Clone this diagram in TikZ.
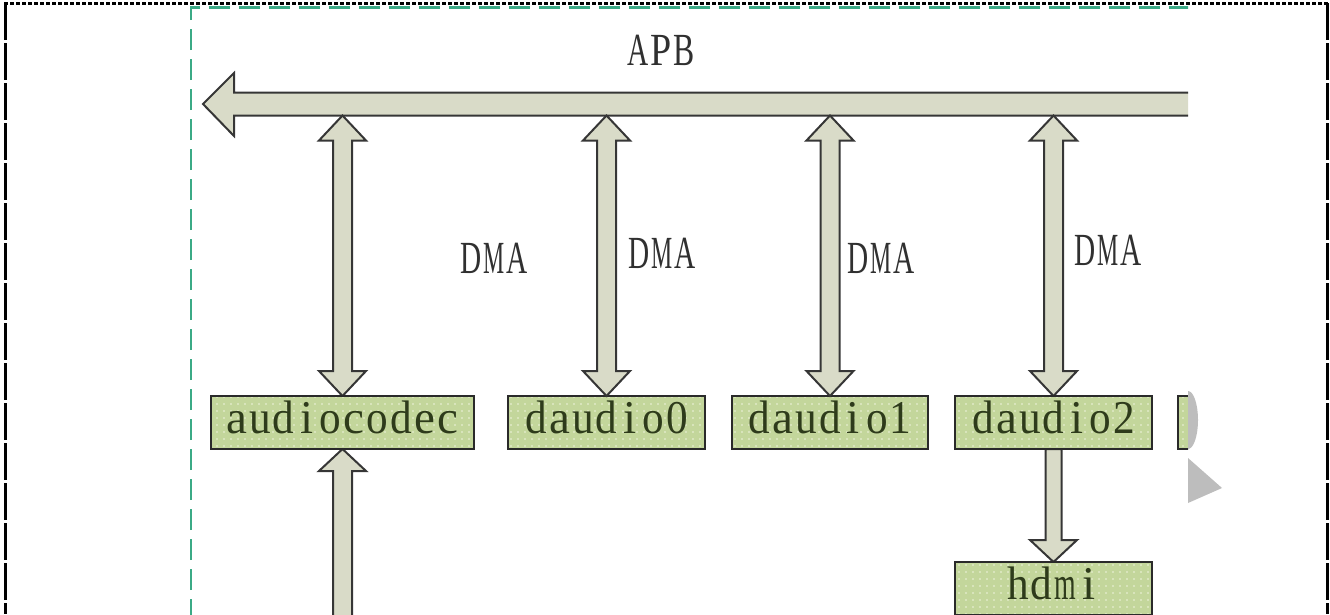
\documentclass[tikz,border=0pt]{standalone}
\usepackage{fontspec}
\setmainfont{Liberation Serif}
\usepackage{graphicx}
\usetikzlibrary{calc,patterns.meta}

\definecolor{framegreen}{HTML}{3BAA86}
\definecolor{arrowfill}{HTML}{D9DBC8}
\definecolor{arrowline}{HTML}{363636}
\definecolor{boxfill}{HTML}{C3D69B}
\definecolor{boxdots}{HTML}{EEF3DC}
\definecolor{boxline}{HTML}{2A2A2A}
\definecolor{boxtext}{HTML}{2E3B1B}
\definecolor{labeltext}{HTML}{303030}
\definecolor{overlaygray}{HTML}{BDBDBD}

% half-width (monospaced) setting of Latin text: every glyph sits in a 0.5em cell
\newlength\glw
\newlength\glx
\newcommand\halfch[1]{%
  \settowidth\glw{#1}\setlength\glx{0.46em}%
  \ifdim\glw>\glx
    \pgfmathsetmacro\glsx{\the\glx/\the\glw}%
    \makebox[0.5em]{\scalebox{\glsx}[1]{#1}}%
  \else
    \makebox[0.5em]{#1}%
  \fi}
\makeatletter
\def\mono@loop#1{\ifx#1\relax\else\halfch{#1}\expandafter\mono@loop\fi}
\newcommand\mono[1]{\mono@loop#1\relax}
\makeatother

% vertical double block arrow between a top tip and a bottom tip
\newcommand\dblarrow[2]{%
  \filldraw[blockarrow] (#1) -- ($(#1)+(23.5,25)$) -- ($(#1)+(9.5,25)$)
    -- ($(#2)+(9.5,-25)$) -- ($(#2)+(23.5,-25)$) -- (#2)
    -- ($(#2)+(-23.5,-25)$) -- ($(#2)+(-9.5,-25)$)
    -- ($(#1)+(-9.5,25)$) -- ($(#1)+(-23.5,25)$) -- cycle;}

\begin{document}
\begin{tikzpicture}[x=1pt,y=-1pt,
  blockarrow/.style={fill=arrowfill, draw=arrowline, line width=2pt, line join=miter},
  unit/.style={draw=boxline, line width=2pt, preaction={fill=boxfill},
    pattern={Dots[radius=0.9pt, distance=7pt]}, pattern color=boxdots,
    minimum height=53pt, inner sep=0pt, outer sep=0pt,
    text height=31pt, text depth=0pt, text=boxtext,
    font=\fontsize{47}{50}\selectfont},
  buslabel/.style={anchor=base, text=labeltext, inner sep=0pt,
    font=\fontsize{46}{50}\selectfont},
  frame/.style={draw=framegreen, line width=2.4pt, dash pattern=on 21pt off 9pt},
  border/.style={draw=black, line width=3pt}]
\useasboundingbox (0,0) rectangle (1330,614);

\begin{scope}
  \clip (0,0) rectangle (1188,614);

  % dashed module frame
  \draw[frame] (191,620) -- (191,7.5) -- (1200,7.5);

  % APB bus arrow
  \coordinate (apbtip) at (203,104);
  \coordinate (apbB) at (1188,115.5);
  \fill[arrowfill] (1200,92.5) -- (234,92.5) -- (234,73) -- (apbtip)
    -- (234,136) -- (234,115.5) -- (1200,115.5) -- cycle;
  \draw[blockarrow, fill=none] (1200,92.5) -- (234,92.5) -- (234,73) -- (apbtip)
    -- (234,136) -- (234,115.5) -- (1200,115.5);
  \node[buslabel] (apb) at (661.5,65) {\mono{APB}};

  % audio units
  \node[unit, minimum width=263pt] (codec) at (342.5,422.5) {\raisebox{5pt}{\mono{audiocodec}}};
  \node[unit, minimum width=197pt] (d0) at (606.5,422.5) {\raisebox{5pt}{\mono{daudio0}}};
  \node[unit, minimum width=196pt] (d1) at (830,422.5) {\raisebox{5pt}{\mono{daudio1}}};
  \node[unit, minimum width=197pt] (d2) at (1053.5,422.5) {\raisebox{5pt}{\mono{daudio2}}};
  \node[unit, minimum width=197pt] (d3) at (1276.5,422.5) {};
  \node[unit, minimum width=197pt] (hdmi) at (1053.5,588.5) {\raisebox{5pt}{\mono{hdmi}}};

  % DMA links between the bus and the units
  \dblarrow{codec.north |- apbB}{codec.north}
  \dblarrow{d0.north |- apbB}{d0.north}
  \dblarrow{d1.north |- apbB}{d1.north}
  \dblarrow{d2.north |- apbB}{d2.north}

  % input into audiocodec
  \coordinate (codecin) at ($(codec.south)+(0,200)$);
  \filldraw[blockarrow] (codec.south) -- ($(codec.south)+(23.5,22)$) -- ($(codec.south)+(9.5,22)$)
    -- ($(codecin)+(9.5,0)$) -- ($(codecin)+(-9.5,0)$)
    -- ($(codec.south)+(-9.5,22)$) -- ($(codec.south)+(-23.5,22)$) -- cycle;

  % daudio2 to hdmi
  \filldraw[blockarrow] ($(d2.south)+(-8,0)$) -- ($(hdmi.north)+(-8,-22)$)
    -- ($(hdmi.north)+(-23.5,-22)$) -- (hdmi.north) -- ($(hdmi.north)+(23.5,-22)$)
    -- ($(hdmi.north)+(8,-22)$) -- ($(d2.south)+(8,0)$) -- cycle;
  \node[unit, minimum width=197pt] at (d2) {\raisebox{5pt}{\mono{daudio2}}};
  \node[unit, minimum width=197pt] at (hdmi) {\raisebox{5pt}{\mono{hdmi}}};
  \node[unit, minimum width=263pt] at (codec) {\raisebox{5pt}{\mono{audiocodec}}};

  % DMA labels
  \node[buslabel] (dma0) at (494,273) {\mono{DMA}};
  \node[buslabel] (dma1) at (662.5,268) {\mono{DMA}};
  \node[buslabel] (dma2) at (881.5,273) {\mono{DMA}};
  \node[buslabel] (dma3) at (1108.5,265) {\mono{DMA}};
\end{scope}

% player overlay marks
\begin{scope}
  \clip (1188,380) rectangle (1220,460);
  \fill[overlaygray] (1188,420) ellipse [x radius=10, y radius=29];
\end{scope}
\fill[overlaygray] (1188,458) -- (1222,488) -- (1188,503) -- cycle;

% outer border
\draw[border, dash pattern=on 4pt off 2pt] (4,3) -- (1328,3);
\draw[border, dash pattern=on 37pt off 3pt] (5,3) -- (5,614);
\draw[border, dash pattern=on 37pt off 3pt] (1327,3) -- (1327,614);
\end{tikzpicture}
\end{document}
